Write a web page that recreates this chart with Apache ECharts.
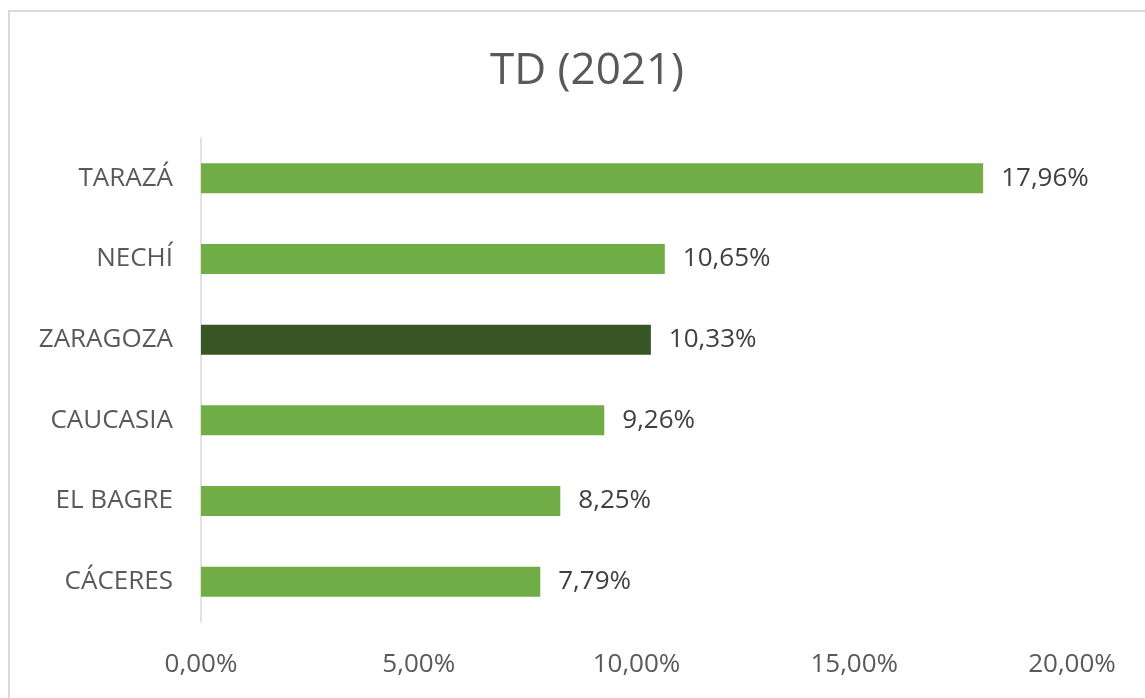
<!DOCTYPE html>
<html>
<head>
<meta charset="utf-8">
<script src="https://cdn.jsdelivr.net/npm/echarts@6/dist/echarts.min.js"></script>
<style>
  html, body { margin: 0; padding: 0; background: #fff; }
  #frame { position: absolute; left: 8px; top: 10px; width: 1200px; height: 760px;
           border-left: 2px solid #d9d9d9; border-top: 2px solid #d9d9d9; box-sizing: border-box; }
  #container { position: absolute; left: 0; top: 0; width: 1145px; height: 698px; }
</style>
</head>
<body>
<div id="frame"></div>
<div id="container"></div>
<script>
"use strict";

// municipios, de arriba hacia abajo
const categories = ["TARAZÁ", "NECHÍ", "ZARAGOZA", "CAUCASIA", "EL BAGRE", "CÁCERES"];
const values = [17.96, 10.65, 10.33, 9.26, 8.25, 7.79];
const highlight = "ZARAGOZA";

const fmt = v => v.toFixed(2).replace('.', ',') + '%';

let myChart = echarts.init(document.getElementById('container'));

let option = {
  textStyle: { fontFamily: 'Open Sans' },
  title: { // 标题
    text: "TD (2021)",
    left: 582,
    textAlign: 'center',
    top: 44,
    textStyle: { fontSize: 44, fontWeight: 'normal', color: '#595959', fontFamily: 'Open Sans' },
  },
  grid: {
    left: 201,
    right: 73,
    top: 138,
    bottom: 76,
  },
  xAxis: {
    type: 'value',
    min: 0,
    max: 20,
    interval: 5,
    splitLine: { show: false },
    axisLine: { show: false },
    axisTick: { show: false },
    axisLabel: {
      formatter: v => fmt(v),
      fontSize: 26,
      color: '#595959',
      margin: 30,
    },
  },
  yAxis: {
    type: 'category',
    data: categories,
    inverse: true,
    axisLine: { show: true, lineStyle: { color: '#d9d9d9', width: 1.5 } },
    axisTick: { show: false },
    axisLabel: { fontSize: 26, color: '#595959', margin: 28 },
  },
  series: [
    {
      type: 'bar',
      barWidth: 30,
      data: values.map((v, i) => ({
        value: v,
        itemStyle: { color: categories[i] === highlight ? '#375623' : '#70ad47' },
      })),
      label: {
        show: true,
        position: 'right',
        distance: 18,
        formatter: p => fmt(p.value),
        fontSize: 26,
        color: '#404040',
      },
    },
  ],
};

myChart.setOption(option);
</script>
</body>
</html>
